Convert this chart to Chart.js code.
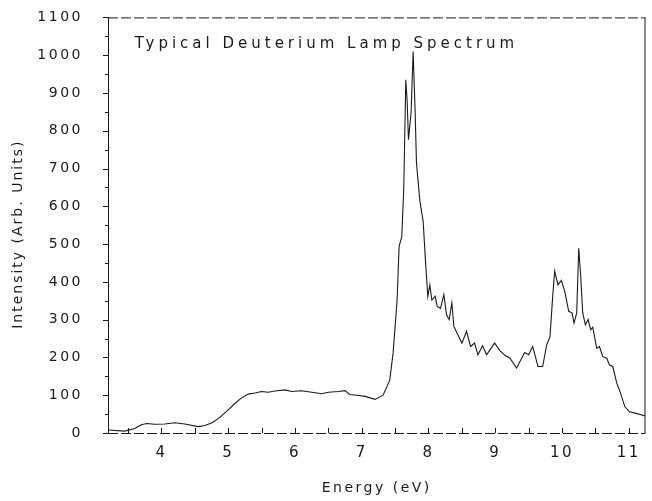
<!DOCTYPE html>
<html>
<head>
<meta charset="utf-8">
<script src="https://cdn.jsdelivr.net/npm/chart.js@4.4.1/dist/chart.umd.min.js"></script>
<style>
  html, body { margin: 0; padding: 0; background: #fff; }
  #wrap { width: 652px; height: 501px; }
</style>
</head>
<body>
<div id="wrap"><canvas id="spec"></canvas></div>
<script>
// --- data ---
const energy = [3.2, 3.45, 3.6, 3.7, 3.78, 3.9, 4.05, 4.2, 4.35, 4.55, 4.65, 4.76, 4.88, 5.0, 5.1, 5.2, 5.3, 5.4,
    5.5, 5.6, 5.7, 5.85, 5.95, 6.1, 6.25, 6.4, 6.5, 6.65, 6.75, 6.82, 6.93, 7.05, 7.2, 7.32, 7.42, 7.47, 7.53, 7.56,
    7.6, 7.63, 7.66, 7.68, 7.7, 7.74, 7.77, 7.8, 7.82, 7.87, 7.92, 7.96, 7.99, 8.02, 8.05, 8.1, 8.13, 8.18, 8.23,
    8.27, 8.31, 8.35, 8.38, 8.44, 8.5, 8.57, 8.63, 8.69, 8.74, 8.81, 8.87, 8.99, 9.07, 9.15, 9.22, 9.32, 9.44, 9.5,
    9.56, 9.64, 9.71, 9.77, 9.82, 9.86, 9.89, 9.94, 9.99, 10.04, 10.1, 10.15, 10.18, 10.22, 10.25, 10.28, 10.31,
    10.35, 10.39, 10.43, 10.46, 10.52, 10.56, 10.61, 10.67, 10.71, 10.76, 10.82, 10.86, 10.94, 11.01, 11.11, 11.25];
const intensity = [8, 5, 12, 22, 25, 23, 24, 27, 24, 17, 20, 27, 42, 61, 78, 93, 103, 106,
    110, 108, 111, 114, 110, 112, 108, 104, 108, 110, 112, 102, 100, 97, 89, 100, 140, 212, 352, 494,
    520, 650, 935, 880, 776, 850, 1010, 850, 715, 615, 560, 441, 361, 392, 352, 362, 335, 330, 366,
    313, 300, 344, 282, 260, 238, 269, 229, 238, 207, 231, 207, 238, 218, 205, 198, 172, 213, 207,
    229, 176, 176, 233, 255, 361, 428, 392, 404, 375, 322, 318, 291, 318, 489, 414, 317,
    286, 301, 273, 280, 224, 229, 202, 198, 180, 176, 132, 114, 70, 56, 52, 45];

const xTicks = [4, 5, 6, 7, 8, 9, 10, 11];
const xMinorTicks = [3.5, 4.5, 5.5, 6.5, 7.5, 8.5, 9.5, 10.5];
const yTicks = [0, 100, 200, 300, 400, 500, 600, 700, 800, 900, 1000, 1100];
const yMinorTicks = [50, 150, 250, 350, 450, 550, 650, 750, 850, 950, 1050];

const plotTitle = "Typical Deuterium Lamp Spectrum";
const xTitle = "Energy (eV)";
const yTitle = "Intensity (Arb. Units)";

const INK = '#1a1a1a';
const FONT = "'DejaVu Sans', sans-serif";

// wide plotter-like lettering
const spacing = {
    id: 'spacing',
    beforeUpdate(chart) { chart.ctx.letterSpacing = '2.5px'; },
    beforeDraw(chart) { chart.ctx.letterSpacing = '2.5px'; }
};

// frame, tick marks and the texts the scan carries
const frame = {
    id: 'frame',
    afterDraw(chart) {
        const ctx = chart.ctx;
        const { left, right, top, bottom } = chart.chartArea;
        const xs = chart.scales.x, ys = chart.scales.y;
        ctx.save();
        ctx.strokeStyle = INK;
        ctx.lineWidth = 1;

        // top and bottom edges look broken in the scan
        ctx.setLineDash([10, 3]);
        ctx.beginPath();
        ctx.moveTo(left, top + 0.5); ctx.lineTo(right, top + 0.5);
        ctx.moveTo(left, bottom + 0.5); ctx.lineTo(right, bottom + 0.5);
        ctx.stroke();
        ctx.setLineDash([]);
        ctx.beginPath();
        ctx.moveTo(left + 0.5, top); ctx.lineTo(left + 0.5, bottom);
        ctx.moveTo(right - 0.5, top); ctx.lineTo(right - 0.5, bottom);
        ctx.stroke();

        // x ticks point into the plot
        ctx.beginPath();
        xTicks.concat(xMinorTicks).forEach(v => {
            const px = Math.round(xs.getPixelForValue(v)) + 0.5;
            ctx.moveTo(px, bottom); ctx.lineTo(px, bottom - 5);
        });
        // y ticks point outward
        yTicks.forEach(v => {
            const py = Math.round(ys.getPixelForValue(v)) + 0.5;
            ctx.moveTo(left, py); ctx.lineTo(left - 5, py);
        });
        yMinorTicks.forEach(v => {
            const py = Math.round(ys.getPixelForValue(v)) + 0.5;
            ctx.moveTo(left, py); ctx.lineTo(left - 3, py);
        });
        ctx.stroke();

        ctx.fillStyle = INK;
        ctx.letterSpacing = '4px';
        ctx.font = "15px " + FONT;
        ctx.textBaseline = 'middle';
        ctx.textAlign = 'left';
        ctx.fillText(plotTitle, xs.getPixelForValue(3.6), ys.getPixelForValue(1030));

        ctx.letterSpacing = '2px';
        ctx.font = "14px " + FONT;
        ctx.textAlign = 'center';
        ctx.translate(18, (top + bottom) / 2 + 9);
        ctx.rotate(-Math.PI / 2);
        ctx.fillText(yTitle, 0, 0);
        ctx.restore();
    }
};

const ctx = document.getElementById('spec').getContext('2d');
new Chart(ctx, {
    type: 'line',
    data: {
        datasets: [{
            data: energy.map((e, i) => ({ x: e, y: intensity[i] })),
            borderColor: INK,
            borderWidth: 1.1,
            pointRadius: 0,
            tension: 0,
            fill: false
        }]
    },
    options: {
        responsive: true,
        maintainAspectRatio: false,
        animation: false,
        layout: { padding: { top: 0, right: 5, left: 0, bottom: 0 } },
        plugins: { legend: { display: false }, tooltip: { enabled: false } },
        scales: {
            x: {
                type: 'linear',
                min: 3.2,
                max: 11.25,
                afterBuildTicks: s => { s.ticks = xTicks.map(v => ({ value: v })); },
                afterFit: s => { s.height = 68; },
                grid: { display: false, drawTicks: false },
                border: { display: false },
                ticks: { color: INK, font: { family: FONT, size: 15 }, padding: 11, maxRotation: 0,
                         callback: v => String(v) },
                title: { display: true, text: xTitle, color: INK, font: { family: FONT, size: 14 }, padding: { bottom: 4 } }
            },
            y: {
                type: 'linear',
                min: 0,
                max: 1100,
                afterBuildTicks: s => { s.ticks = yTicks.map(v => ({ value: v })); },
                afterFit: s => { s.width = 108; },
                // invisible tick strip only to push the labels away from the axis
                grid: { display: true, drawOnChartArea: false, drawTicks: true, tickLength: 16, color: 'rgba(0,0,0,0)' },
                border: { display: false },
                ticks: { color: INK, font: { family: FONT, size: 14 }, padding: 9,
                         callback: v => String(v) }
            }
        }
    },
    plugins: [spacing, frame]
});
</script>
</body>
</html>
